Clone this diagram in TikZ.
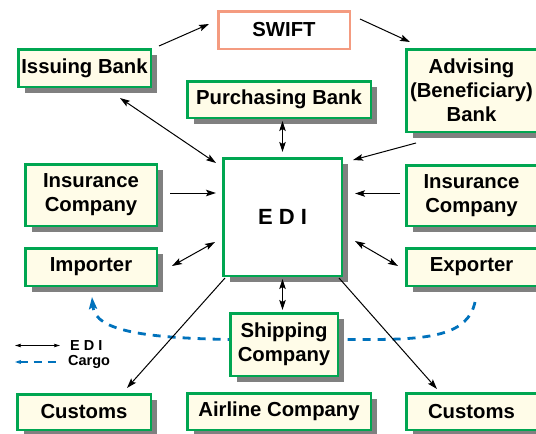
\documentclass[tikz,border=0pt]{standalone}
\usepackage{fontspec}
\setmainfont{Liberation Sans}
\usetikzlibrary{arrows.meta,shadows,calc}
\definecolor{boxgreen}{RGB}{0,166,81}
\definecolor{cream}{RGB}{255,252,232}
\definecolor{shadowgray}{RGB}{128,128,128}
\definecolor{salmon}{RGB}{244,155,128}
\definecolor{cargoblue}{RGB}{0,114,188}
\newcommand{\boxfont}{\fontsize{20.3}{24}\selectfont\bfseries}
\newcommand{\hubfont}{\fontsize{22}{24}\selectfont\bfseries}
\newcommand{\legfont}{\fontsize{14.5}{16}\selectfont\bfseries}
\begin{document}
\begin{tikzpicture}[x=1pt,y=-1pt,
  sz/.style 2 args={minimum width=#1pt-2.5pt,minimum height=#2pt-2.5pt},
  gbox/.style={draw=boxgreen,line width=2.5pt,fill=cream,inner sep=0pt,
    align=center,font=\boxfont,
    drop shadow={shadow xshift=6.5pt,shadow yshift=-6pt,fill=shadowgray,opacity=1}},
  hub/.style={gbox,fill=white,font=\hubfont},
  netbox/.style={draw=salmon,line width=2.5pt,fill=white,inner sep=0pt,
    align=center,font=\boxfont},
  arr/.style={line width=1pt,-{Stealth[length=10pt,width=6.5pt,inset=2pt]}},
  dbl/.style={line width=1pt,{Stealth[length=10pt,width=6.5pt,inset=2pt]}-{Stealth[length=10pt,width=6.5pt,inset=2pt]}},
  cargo/.style={draw=cargoblue,line width=2.8pt,dash pattern=on 8pt off 7pt,
    -{Stealth[length=12pt,width=8pt,inset=2pt]}},
  legedi/.style={line width=0.8pt,{Stealth[length=6pt,width=3.5pt,inset=1pt]}-{Stealth[length=6pt,width=3.5pt,inset=1pt]}},
  legcargo/.style={draw=cargoblue,line width=1.4pt,dash pattern=on 8pt off 6pt,
    {Stealth[length=6pt,width=4pt,inset=1pt]}-},
  legtext/.style={font=\legfont,inner sep=0pt,anchor=west}
]
\useasboundingbox (0,0) rectangle (536,434);
\clip (0,0) rectangle (536,434);

% cargo route, drawn beneath the boxes
\coordinate (cargoStart) at (475,302);
\coordinate (cargoEnd) at (92,297);
\draw[cargo] (cargoStart) .. controls (468,335) and (430,339.5) .. (370,339.5)
  -- (230,339.5) .. controls (150,338) and (95,332) .. (cargoEnd);

% parties
\node[netbox,sz={134}{40}] (swift) at (284,30) {SWIFT};
\node[gbox,sz={135}{40}] (issuing) at (84.5,68) {Issuing Bank};
\node[gbox,sz={186}{39}] (purch) at (279,99.5) {Purchasing Bank};
\node[gbox,sz={133}{85}] (adv) at (471.5,90.5) {Advising\\(Beneficiary)\\Bank};
\node[hub,sz={121}{120}] (edi) at (282.5,217) {E D I};
\node[gbox,sz={134}{64}] (insL) at (91,195) {Insurance\\Company};
\node[gbox,sz={134}{40}] (imp) at (91,267) {Importer};
\node[gbox,sz={133}{63}] (insR) at (471.5,195.5) {Insurance\\Company};
\node[gbox,sz={133}{40}] (exp) at (471.5,267) {Exporter};
\node[gbox,sz={110}{65}] (ship) at (284,344.5) {Shipping\\Company};
\node[gbox,sz={136}{38}] (custL) at (84,412) {Customs};
\node[gbox,sz={186}{39}] (air) at (279,411.5) {Airline Company};
\node[gbox,sz={133}{39}] (custR) at (471.5,411.5) {Customs};

% EDI message flows
\draw[arr] ($(issuing.north east)+(7,-2)$) -- ($(swift.west)+(-8,-6)$);
\draw[arr] ($(swift.east)+(9,-11)$) -- ($(adv.north west)+(5,-6)$);
\draw[dbl] ($(issuing.south east)+(-32,10)$) -- ($(edi.north west)+(-6,6)$);
\draw[dbl] ($(purch.south -| edi.north)+(0,2)$) -- ($(edi.north)+(0,-5)$);
\draw[arr] ($(adv.south west)+(11,10)$) -- ($(edi.north east)+(10,3)$);
\draw[arr] ($(insL.east)+(12,-2)$) -- ($(insL.east -| edi.west)+(-6,-2)$);
\draw[arr] ($(insR.west)+(-5,-2)$) -- ($(insR.west -| edi.east)+(12,-2)$);
\draw[dbl] ($(imp.east)+(14,-1)$) -- ($(edi.west)+(-7,25)$);
\draw[dbl] ($(edi.east)+(12,24)$) -- ($(exp.west)+(-7,-1)$);
\draw[dbl] ($(edi.south)+(0,2)$) -- ($(ship.north -| edi.south)+(0,-2)$);
\draw[arr] ($(edi.south west)+(3,1)$) -- ($(custL.north east)+(-25,-5)$);
\draw[arr] ($(edi.south east)+(-4,1)$) -- ($(custR.north)+(-34.5,-3)$);

% legend
\node[legtext] (keyEdi) at (70,345.5) {E D I};
\node[legtext] (keyCargo) at (68,362) {Cargo};
\draw[legedi] ($(keyEdi.west)+(-55,0)$) -- ($(keyEdi.west)+(-10,0)$);
\draw[legcargo] ($(keyCargo.west)+(-53,0)$) -- ($(keyCargo.west)+(-8,0)$);
\end{tikzpicture}
\end{document}
